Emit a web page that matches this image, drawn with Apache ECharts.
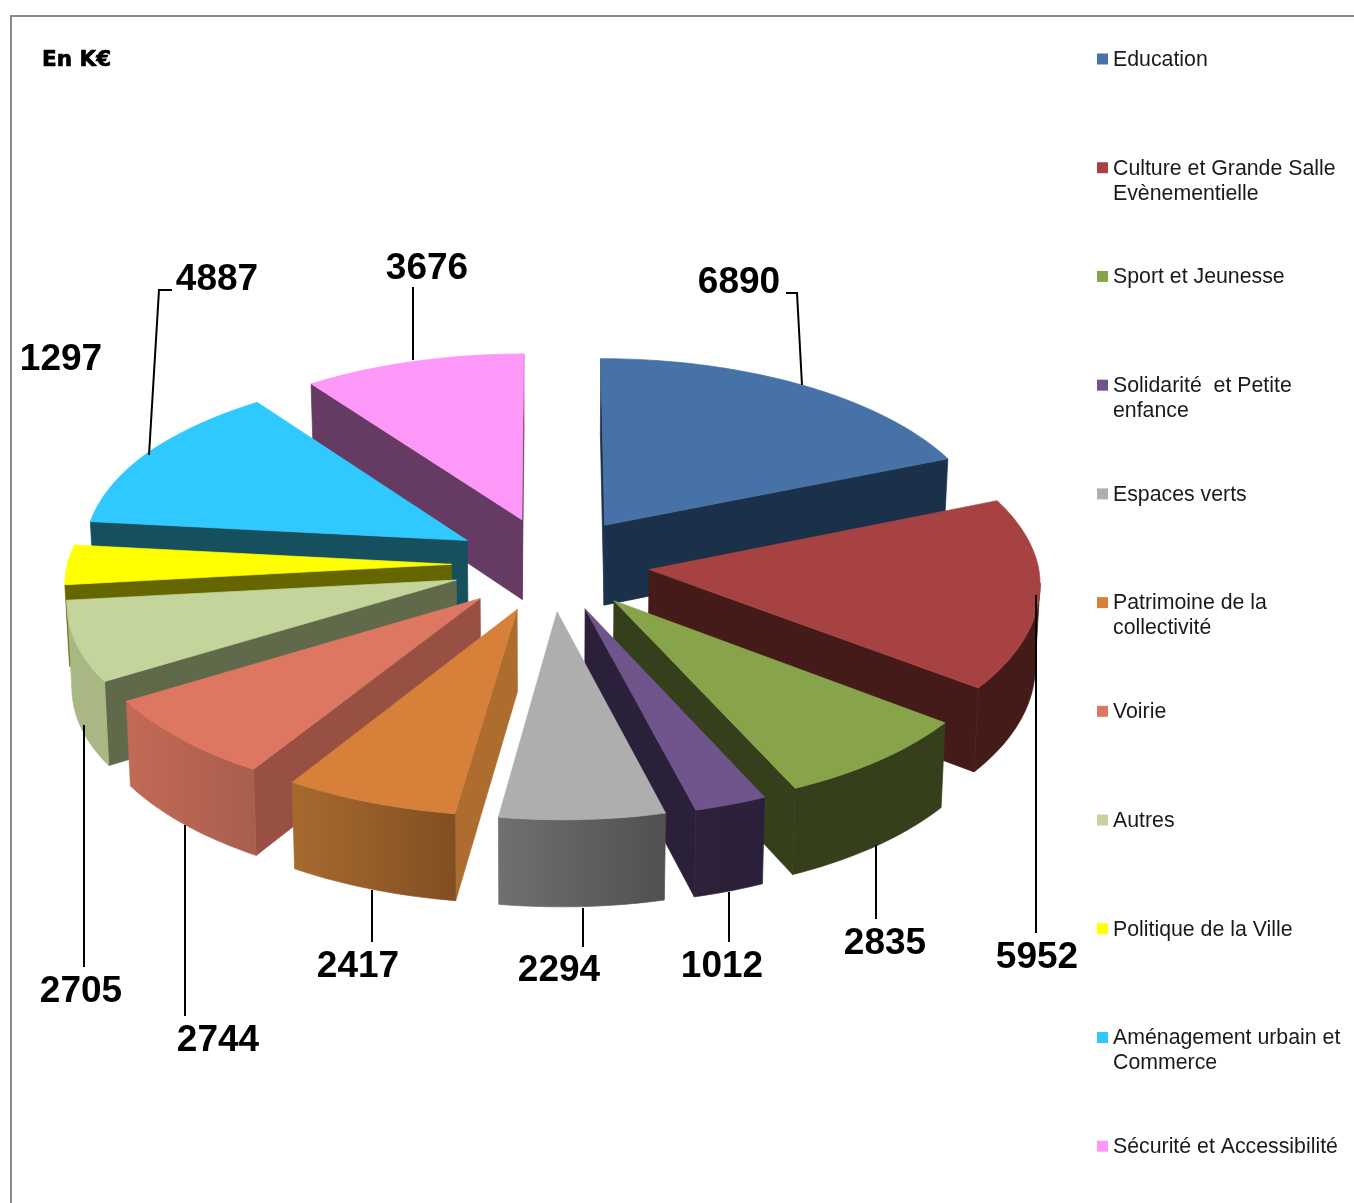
<!DOCTYPE html>
<html lang="fr">
<head>
<meta charset="utf-8">
<title>Budget par secteur</title>
<style>html,body{margin:0;padding:0;background:#fff}#chart{width:1354px;height:1203px}</style>
<script src="https://cdn.jsdelivr.net/npm/echarts@6/dist/echarts.min.js"></script>
</head>
<body>
<div id="chart"></div>
<script>
// Budget sectors, in thousands of euros, clockwise from twelve o'clock.
const categories = [
  'Education',
  'Culture et Grande Salle\nEvènementielle',
  'Sport et Jeunesse',
  'Solidarité  et Petite\nenfance',
  'Espaces verts',
  'Patrimoine de la\ncollectivité',
  'Voirie',
  'Autres',
  'Politique de la Ville',
  'Aménagement urbain et\nCommerce',
  'Sécurité et Accessibilité'
];
const values = [6890, 5952, 2835, 1012, 2294, 2417, 2744, 2705, 1297, 4887, 3676];

// Face colours per sector.
const topColors = ['#4672A8','#A64342','#87A44B','#6F558C','#AEAEAE','#D7803A','#DE7762','#C3D59B','#FFFF00','#30C9FF','#FD98F9'];
const radialColors = ['#1B3049','#441B18','#363F1C','#2B203A','#4F4F4F','#AE6C2F','#985043','#60694A','#666600','#16505F','#653A63'];
const rimLeftColors = ['#1B3049','#441B18','#363F1C','#2E2139','#707070','#A66A2E','#C26A56','#A9B785','#666600','#16505F','#653A63'];
const rimRightColors = ['#1B3049','#441B18','#363F1C','#2B203A','#505050','#824F22','#A95E4D','#A9B785','#666600','#16505F','#653A63'];

// Projection of the exploded pie onto the page.
const CX = 550, CY = 564, RADIUS = 390, EXPLODE = 100;
const TILT = 0.478, CAMERA = 5075, THICKNESS = 81, TAPER = 0.00012;
const clamp01 = v => Math.min(1, Math.max(0, v));

function project(x, y, z) {
  const f = CAMERA / (CAMERA - y);
  // The pie is a touch narrower on its left flank than on its right.
  const squeeze = x < 0
    ? 0.015 * clamp01((y + 250) / 250) - 0.009 * clamp01((y - 100) / 150)
    : 0.003 * clamp01((y + 250) / 250);
  const narrow = x * (1 - squeeze);
  // The near half leans slightly left and rolls clockwise; the far half sits a little lower.
  const near = Math.max(y, 0), far = Math.max(-y, 0);
  const lean = 15 * Math.pow(near / 480, 1.3);
  const roll = 5e-5 * (narrow - 150) * near;
  const farDrop = 1.5 * far / 473;
  const farShift = x < 0 ? 2 * clamp01(far / 30) : 0;
  const drop = z * (1 + y * 0.000154);
  return [
    CX + narrow * f * (1 - z * TAPER) - lean + farShift,
    CY + y * TILT * f + roll + farDrop + drop
  ];
}
const total = values.reduce((a, b) => a + b, 0);
function startAngle(index) {
  let s = 0;
  for (let i = 0; i < index; i++) s += values[i];
  return s / total * Math.PI * 2;
}

function renderSlice(index, value) {
  const a0 = startAngle(index);
  const a1 = a0 + value / total * Math.PI * 2;
  const mid = (a0 + a1) / 2;
  const ox = EXPLODE * Math.sin(mid), oy = -EXPLODE * Math.cos(mid);
  const rimPoint = (a, z) => project(ox + RADIUS * Math.sin(a), oy - RADIUS * Math.cos(a), z);
  const apex = z => project(ox, oy, z);

  const steps = Math.max(8, Math.ceil((a1 - a0) / 0.02));
  const angles = [];
  for (let i = 0; i <= steps; i++) angles.push(a0 + (a1 - a0) * i / steps);
  const topRim = angles.map(a => rimPoint(a, 0));
  const bottomRim = angles.map(a => rimPoint(a, THICKNESS));

  const children = [];
  // The hairline stroke in the fill colour closes the seams between adjacent faces.
  const polygon = (points, fill) => ({
    type: 'polygon',
    shape: { points },
    style: { fill, stroke: fill, lineWidth: 0.7 }
  });

  // A radial wall shows when the drop from its top edge leaves the slice's outline.
  const A = apex(0), M = rimPoint(mid, 0);
  [[a0, topRim[0]], [a1, topRim[steps]]].forEach(([a, P]) => {
    const dx = P[0] - A[0], dy = P[1] - A[1];
    const inside = dx * (M[1] - A[1]) - dy * (M[0] - A[0]);
    const down = dx;
    if (inside * down < 0) {
      children.push(polygon([A, P, rimPoint(a, THICKNESS), apex(THICKNESS)], radialColors[index]));
    }
  });

  // The outer wall shows where the rim runs right to left as the angle grows.
  let first = -1, last = -1;
  for (let i = 0; i < steps; i++) {
    if (topRim[i + 1][0] < topRim[i][0]) {
      if (first < 0) first = i;
      last = i + 1;
    }
  }
  if (first >= 0) {
    const pts = topRim.slice(first, last + 1).concat(bottomRim.slice(first, last + 1).reverse());
    children.push(polygon(pts, new echarts.graphic.LinearGradient(0, 0, 1, 0, [
      { offset: 0, color: rimLeftColors[index] },
      { offset: 1, color: rimRightColors[index] }
    ])));
  }

  children.push(polygon([A].concat(topRim), topColors[index]));
  return { type: 'group', children };
}

// Back slices are painted first so the nearer ones cover them.
const depthRank = values.map((v, i) => {
  const mid = startAngle(i) + v / total * Math.PI;
  return { i, y: -Math.cos(mid) };
}).sort((a, b) => a.y - b.y).map(d => d.i);

const sliceSeries = categories.map((name, i) => ({
  type: 'custom',
  name,
  coordinateSystem: 'none',
  silent: true,
  animation: false,
  z: 2 + depthRank.indexOf(i),
  itemStyle: { color: topColors[i] },
  data: [[values[i]]],
  renderItem: (params, api) => renderSlice(i, api.value(0))
}));

// Value labels and their leader lines.
const labelCentres = [[739,283],[1037,958],[885,944],[722,967],[559,971],[358,967],[218,1041],[81,992],[61,360],[217,280],[427,269]];
const leaderPaths = [
  [[786,293],[797,293],[802,385]],
  [[1036,595],[1036,933]],
  [[876,845],[876,919]],
  [[729,892],[729,942]],
  [[583,908],[583,947]],
  [[372,890],[372,942]],
  [[185,825],[185,1016]],
  [[84,725],[84,967]],
  [],
  [[172,290],[159,290],[149,455]],
  [[413,287],[413,360]]
];
const labelSeries = {
  type: 'custom',
  name: 'Montants',
  coordinateSystem: 'none',
  silent: true,
  animation: false,
  z: 20,
  data: values.map(v => [v]),
  renderItem: (params, api) => {
    const i = params.dataIndex;
    const children = [{
      type: 'text',
      style: {
        text: String(api.value(0)),
        x: labelCentres[i][0], y: labelCentres[i][1],
        align: 'center', verticalAlign: 'middle',
        font: 'bold 37px "Liberation Sans", Arial, sans-serif',
        fill: '#000'
      }
    }];
    if (leaderPaths[i].length) {
      children.push({
        type: 'polyline',
        shape: { points: leaderPaths[i] },
        style: { stroke: '#000', lineWidth: 2, fill: null }
      });
    }
    return { type: 'group', children };
  }
};

// One legend block per sector, on a fixed vertical pitch.
const LEGEND_TOP = 47.5, LEGEND_STEP = 108.72, LEGEND_LINE = 25;
const legends = categories.map((name, i) => {
  const lines = name.split('\n').length;
  const h = LEGEND_LINE * lines;
  return {
    data: [name],
    left: 1097,
    top: LEGEND_TOP + i * LEGEND_STEP,
    orient: 'vertical',
    padding: 0,
    selectedMode: false,
    itemWidth: 11,
    itemHeight: h,
    itemGap: 0,
    // The swatch sits level with the first text line of a wrapped label.
    icon: `path://M0 6H11V17H0Z M0 0L0 0 M0 ${h}L0 ${h}`,
    textStyle: {
      fontFamily: '"Liberation Sans", Arial, sans-serif',
      fontSize: 21.3,
      lineHeight: LEGEND_LINE,
      color: '#1a1a1a',
      padding: [0, 0, 0, 0]
    }
  };
});

const chart = echarts.init(document.getElementById('chart'), null, { renderer: 'canvas' });
chart.setOption({
  backgroundColor: '#fff',
  animation: false,
  title: {
    text: 'En K€',
    left: 42,
    top: 49,
    padding: 0,
    textStyle: {
      fontFamily: '"DejaVu Sans", Verdana, sans-serif',
      fontWeight: 'bold',
      fontSize: 21.5,
      color: '#000',
      textBorderColor: '#000',
      textBorderWidth: 0.7
    }
  },
  legend: legends,
  graphic: [
    { type: 'polyline', silent: true, shape: { points: [[11, 1203], [11, 16], [1354, 16]] }, style: { stroke: '#8a8a8a', lineWidth: 2, fill: null } }
  ],
  series: sliceSeries.concat([labelSeries])
});
</script>
</body>
</html>
